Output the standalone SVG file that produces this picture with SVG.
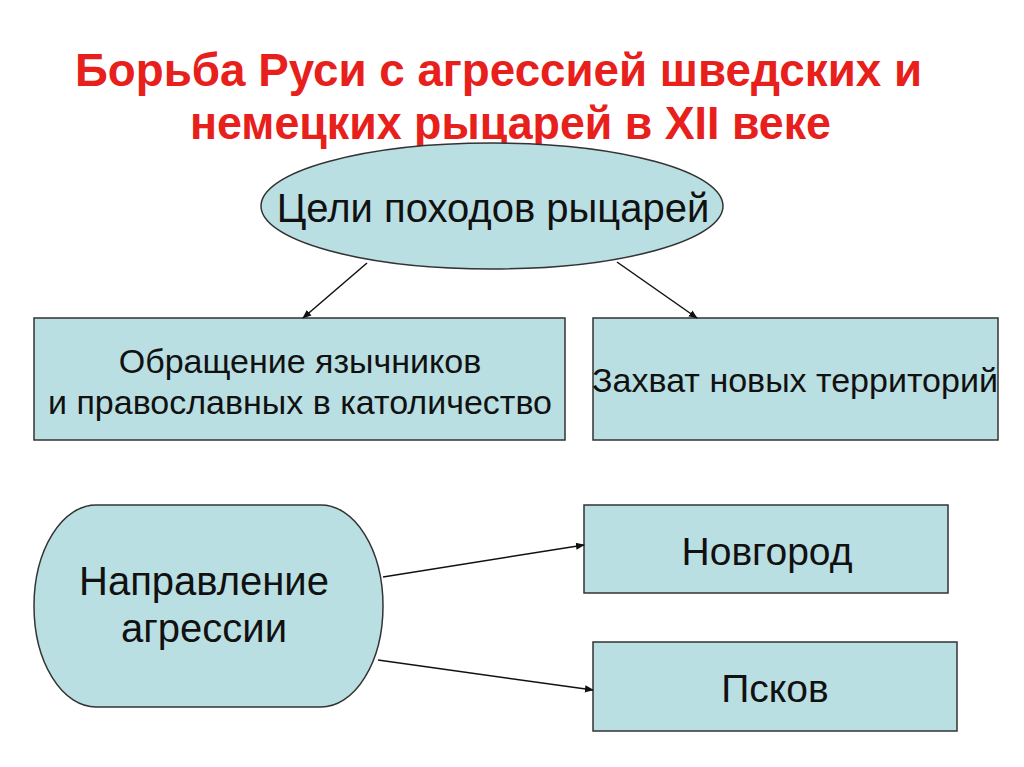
<svg xmlns="http://www.w3.org/2000/svg" width="1024" height="767" viewBox="0 0 1024 767">
<defs>
<style>
.n{fill:#badfe2;stroke:#333;stroke-width:1.5}
.t{font-family:"Liberation Sans",Arial,sans-serif;fill:#111;text-anchor:middle}
.h{font-family:"Liberation Sans",Arial,sans-serif;fill:#e8201c;font-weight:bold;font-size:46px}
.c{stroke:#111;stroke-width:1.5;fill:none;marker-end:url(#a)}
</style>
<marker id="a" viewBox="0 0 10 10" refX="9" refY="5" markerWidth="6" markerHeight="6" orient="auto"><path d="M0,1 L10,5 L0,9 Z" fill="#111"/></marker>
</defs>
<rect width="1024" height="767" fill="#fff"/>
<g id="title">
<text class="h" x="75" y="86" textLength="847" lengthAdjust="spacingAndGlyphs">Борьба Руси с агрессией шведских и</text>
<text class="h" x="190" y="139" textLength="641" lengthAdjust="spacingAndGlyphs">немецких рыцарей в XII веке</text>
</g>
<g id="goals">
<ellipse class="n" cx="492" cy="206" rx="231" ry="63"/>
<text class="t" x="493" y="222" font-size="40">Цели походов рыцарей</text>
</g>
<g id="conversion">
<rect class="n" x="34" y="318" width="531" height="122"/>
<text class="t" x="300" y="373" font-size="34">Обращение язычников</text>
<text class="t" x="300" y="414" font-size="34">и православных в католичество</text>
</g>
<g id="seizure">
<rect class="n" x="593" y="318" width="405" height="122"/>
<text class="t" x="795" y="392" font-size="34">Захват новых территорий</text>
</g>
<g id="direction">
<rect class="n" x="34" y="505" width="349" height="202" rx="62" ry="101"/>
<text class="t" x="204" y="595" font-size="40">Направление</text>
<text class="t" x="204" y="642" font-size="40">агрессии</text>
</g>
<g id="novgorod">
<rect class="n" x="584" y="505" width="364" height="88"/>
<text class="t" x="767" y="565" font-size="39">Новгород</text>
</g>
<g id="pskov">
<rect class="n" x="593" y="642" width="364" height="89"/>
<text class="t" x="775" y="702" font-size="39">Псков</text>
</g>
<g id="connectors">
<line class="c" x1="367" y1="263" x2="303" y2="318"/>
<line class="c" x1="617" y1="262" x2="697" y2="318"/>
<line class="c" x1="383" y1="577" x2="584" y2="545"/>
<line class="c" x1="378" y1="660" x2="593" y2="690"/>
</g>
</svg>
